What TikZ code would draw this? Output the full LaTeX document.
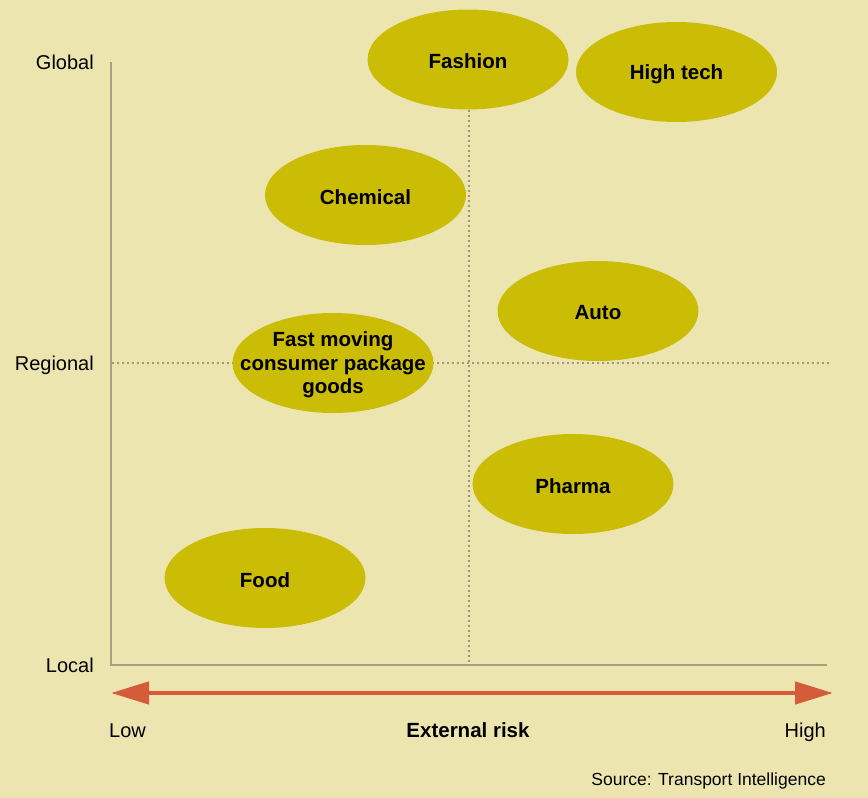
\documentclass[tikz,border=0pt]{standalone}
\usepackage{fontspec}
\setmainfont{Liberation Sans}
\usetikzlibrary{shapes.geometric,arrows.meta}
\definecolor{bgcol}{HTML}{EDE5B0}
\definecolor{blobcol}{HTML}{CBBC06}
\definecolor{axiscol}{HTML}{A89F7E}
\definecolor{gridcol}{HTML}{9A9480}
\definecolor{riskcol}{HTML}{D45C3A}
\tikzset{
  sector/.style={ellipse, fill=blobcol, minimum width=201pt, minimum height=100pt,
    inner sep=0pt},
  sectorlabel/.style={align=center, inner sep=0pt, yshift=-2pt,
    font=\fontsize{20.5}{23.5}\selectfont\bfseries},
  axisline/.style={draw=axiscol, line width=2.2pt},
  guide/.style={draw=gridcol, line width=2pt, dash pattern=on 2pt off 3pt},
  ticklabel/.style={font=\fontsize{20}{24}\selectfont, inner sep=0pt},
}
\begin{document}
\begin{tikzpicture}[x=1pt,y=-1pt]
\fill[bgcol] (0,0) rectangle (868,798);
\useasboundingbox (0,0) rectangle (868,798);

% axes corner and ends
\coordinate (top) at (111,62);
\coordinate (origin) at (111,665);
\coordinate (right) at (827,665);
\coordinate (midleft) at (112,363);
\coordinate (midright) at (830,363);
\coordinate (midbottom) at (469,665);

% sectors
\node[sector] (fashion) at (468,59.5) {};
\node[sector] (hightech) at (676.5,72) {};
\node[sector] (chemical) at (365.5,195) {};
\node[sector] (auto) at (598,311) {};
\node[sector] (pharma) at (573,484) {};
\node[sector] (food) at (265,578) {};

% guide lines behind the consumer goods ellipse
\draw[guide] (fashion.south -| midbottom) -- (midbottom);
\draw[guide] (midleft) -- (midright);

\node[sector] (fmcg) at (333,363) {};

\node[sectorlabel] at (fashion) {Fashion};
\node[sectorlabel] at (hightech) {High tech};
\node[sectorlabel] at (chemical) {Chemical};
\node[sectorlabel] at (auto) {Auto};
\node[sectorlabel] at (pharma) {Pharma};
\node[sectorlabel] at (food) {Food};
\node[sectorlabel] at (fmcg) {Fast moving\\consumer package\\goods};

% axes
\draw[axisline] (top) -- (origin) -- (right);

% risk arrow
\coordinate (arrowL) at (111,693);
\coordinate (arrowR) at (833,693);
\draw[riskcol, line width=4.5pt, {Triangle[length=38pt,width=22pt]}-{Triangle[length=38pt,width=22pt]}] (arrowL) -- (arrowR);

% axis labels
\node[ticklabel, anchor=base east] (global) at (94,69.5) {Global};
\node[ticklabel, anchor=base east] (regional) at (94,370.5) {Regional};
\node[ticklabel, anchor=base east] (local) at (94,672.5) {Local};
\node[ticklabel, anchor=base west] (low) at (109,737) {Low};
\node[ticklabel, anchor=base east] (high) at (826,737) {High};
\node[ticklabel, anchor=base, font=\fontsize{20.5}{24}\selectfont\bfseries] (risk) at (468,737) {External risk};
\node[ticklabel, anchor=base east, font=\fontsize{17.5}{20}\selectfont] (source) at (826,785.5) {Source: Transport Intelligence};
\end{tikzpicture}
\end{document}
